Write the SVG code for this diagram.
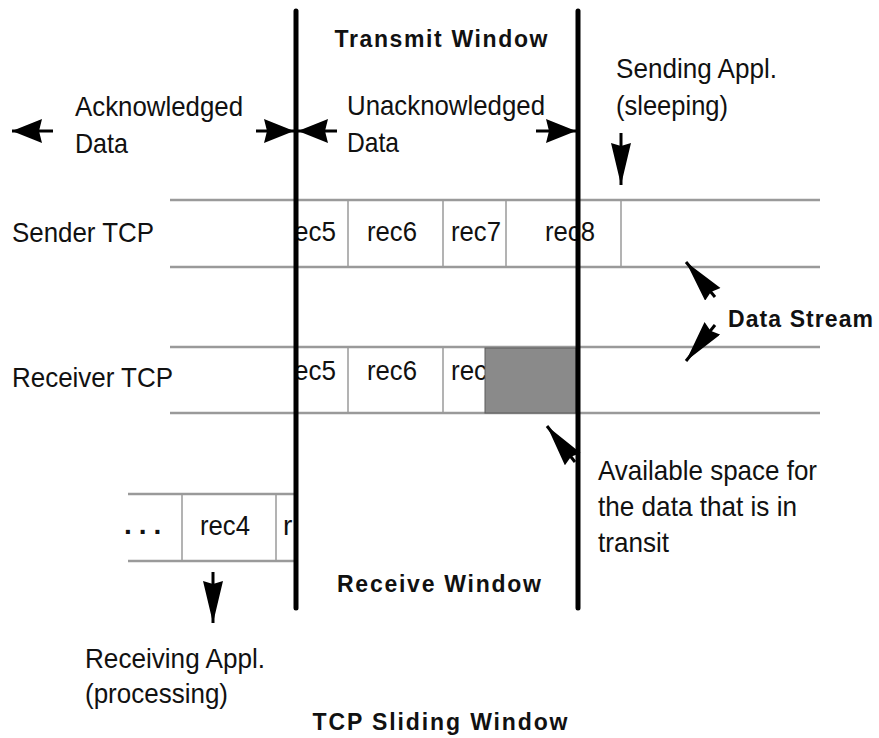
<svg xmlns="http://www.w3.org/2000/svg" width="879" height="738" viewBox="0 0 879 738">
  <style>
    .lbl { font-family: "Liberation Sans", Arial, sans-serif; font-size: 28px; fill: #111; }
    .ttl { font-family: "Liberation Sans", Arial, sans-serif; font-size: 23px; font-weight: bold; fill: #111; }
    .band { stroke: #9a9a9a; stroke-width: 2.5; fill: none; }
    .cell { stroke: #9a9a9a; stroke-width: 1.5; fill: none; }
    .win { stroke: #000; stroke-width: 5; stroke-linecap: round; fill: none; }
    .arr { stroke: #000; stroke-width: 3; fill: none; }
  </style>
  <defs>
    <!-- short, wide head for the horizontal range arrows -->
    <marker id="ah" markerUnits="userSpaceOnUse" markerWidth="32" markerHeight="26" refX="30" refY="12" orient="auto">
      <path d="M0,0 L30,12 L0,24 L3,12 Z" fill="#000"/>
    </marker>
    <!-- longer, slimmer head for the pointer arrows -->
    <marker id="ahs" markerUnits="userSpaceOnUse" markerWidth="44" markerHeight="22" refX="42" refY="10" orient="auto">
      <path d="M0,0 L42,10 L0,20 L3,10 Z" fill="#000"/>
    </marker>
  </defs>

  <rect width="879" height="738" fill="#fff"/>

  <!-- sender byte stream -->
  <g id="sender-tcp">
    <line class="band" x1="170" y1="200" x2="820" y2="200"/>
    <line class="band" x1="170" y1="267" x2="820" y2="267"/>
    <line class="cell" x1="348" y1="200" x2="348" y2="267"/>
    <line class="cell" x1="443" y1="200" x2="443" y2="267"/>
    <line class="cell" x1="506" y1="200" x2="506" y2="267"/>
    <line class="cell" x1="621" y1="200" x2="621" y2="267"/>
    <text class="lbl" x="12" y="242" textLength="142" lengthAdjust="spacingAndGlyphs">Sender TCP</text>
    <text class="lbl" x="294" y="241" textLength="42" lengthAdjust="spacingAndGlyphs">ec5</text>
    <text class="lbl" x="367" y="241" textLength="50" lengthAdjust="spacingAndGlyphs">rec6</text>
    <text class="lbl" x="451" y="241" textLength="50" lengthAdjust="spacingAndGlyphs">rec7</text>
    <text class="lbl" x="545" y="241" textLength="50" lengthAdjust="spacingAndGlyphs">rec8</text>
  </g>

  <!-- receiver byte stream -->
  <g id="receiver-tcp">
    <line class="band" x1="170" y1="347" x2="820" y2="347"/>
    <line class="band" x1="170" y1="413" x2="820" y2="413"/>
    <line class="cell" x1="348" y1="347" x2="348" y2="413"/>
    <line class="cell" x1="443" y1="347" x2="443" y2="413"/>
    <text class="lbl" x="12" y="387" textLength="161" lengthAdjust="spacingAndGlyphs">Receiver TCP</text>
    <text class="lbl" x="294" y="380" textLength="42" lengthAdjust="spacingAndGlyphs">ec5</text>
    <text class="lbl" x="367" y="380" textLength="50" lengthAdjust="spacingAndGlyphs">rec6</text>
    <text class="lbl" x="451" y="380" textLength="36" lengthAdjust="spacingAndGlyphs">rec</text>
    <rect x="485" y="348" width="91" height="65" fill="#8a8a8a" stroke="#5a5a5a" stroke-width="1"/>
  </g>

  <!-- records already handed to the application -->
  <g id="delivered">
    <line class="band" x1="128" y1="494" x2="295" y2="494"/>
    <line class="band" x1="128" y1="561" x2="295" y2="561"/>
    <line class="cell" x1="182" y1="494" x2="182" y2="561"/>
    <line class="cell" x1="276" y1="494" x2="276" y2="561"/>
    <text class="lbl" x="124" y="534" font-weight="bold" letter-spacing="7">...</text>
    <text class="lbl" x="200" y="535" textLength="50" lengthAdjust="spacingAndGlyphs">rec4</text>
    <text class="lbl" x="283" y="535">r</text>
  </g>

  <!-- window edges -->
  <g id="window-edges">
    <line class="win" x1="296" y1="11" x2="296" y2="608"/>
    <line class="win" x1="578" y1="11" x2="578" y2="608"/>
  </g>

  <g id="labels">
    <text class="ttl" x="441" y="47" text-anchor="middle" textLength="213" lengthAdjust="spacing">Transmit Window</text>
    <text class="lbl" x="75" y="116" textLength="168" lengthAdjust="spacingAndGlyphs">Acknowledged</text>
    <text class="lbl" x="75" y="153" textLength="53" lengthAdjust="spacingAndGlyphs">Data</text>
    <text class="lbl" x="347" y="115" textLength="198" lengthAdjust="spacingAndGlyphs">Unacknowledged</text>
    <text class="lbl" x="347" y="152" textLength="52" lengthAdjust="spacingAndGlyphs">Data</text>
    <text class="lbl" x="616" y="78" textLength="161" lengthAdjust="spacingAndGlyphs">Sending Appl.</text>
    <text class="lbl" x="616" y="115" textLength="112" lengthAdjust="spacingAndGlyphs">(sleeping)</text>
    <text class="ttl" x="728" y="327" textLength="145" lengthAdjust="spacing">Data Stream</text>
    <text class="lbl" x="598" y="480" textLength="219" lengthAdjust="spacingAndGlyphs">Available space for</text>
    <text class="lbl" x="598" y="516" textLength="199" lengthAdjust="spacingAndGlyphs">the data that is in</text>
    <text class="lbl" x="598" y="552" textLength="71" lengthAdjust="spacingAndGlyphs">transit</text>
    <text class="ttl" x="439" y="592" text-anchor="middle" textLength="204" lengthAdjust="spacing">Receive Window</text>
    <text class="lbl" x="85" y="668" textLength="180" lengthAdjust="spacingAndGlyphs">Receiving Appl.</text>
    <text class="lbl" x="85" y="703" textLength="143" lengthAdjust="spacingAndGlyphs">(processing)</text>
    <text class="ttl" x="440" y="730" text-anchor="middle" textLength="255" lengthAdjust="spacing">TCP Sliding Window</text>
  </g>

  <g id="connectors">
    <line class="arr" x1="53" y1="131" x2="12" y2="131" marker-end="url(#ah)"/>
    <line class="arr" x1="256" y1="131" x2="294" y2="131" marker-end="url(#ah)"/>
    <line class="arr" x1="337" y1="131" x2="298" y2="131" marker-end="url(#ah)"/>
    <line class="arr" x1="536" y1="131" x2="576" y2="131" marker-end="url(#ah)"/>
    <line class="arr" x1="621" y1="133" x2="621" y2="185" marker-end="url(#ahs)"/>
    <line class="arr" x1="715" y1="297" x2="686" y2="262" marker-end="url(#ahs)"/>
    <line class="arr" x1="715" y1="325" x2="686" y2="361" marker-end="url(#ahs)"/>
    <line class="arr" x1="575" y1="462" x2="547" y2="426" marker-end="url(#ahs)"/>
    <line class="arr" x1="213" y1="572" x2="213" y2="623" marker-end="url(#ahs)"/>
  </g>
</svg>
